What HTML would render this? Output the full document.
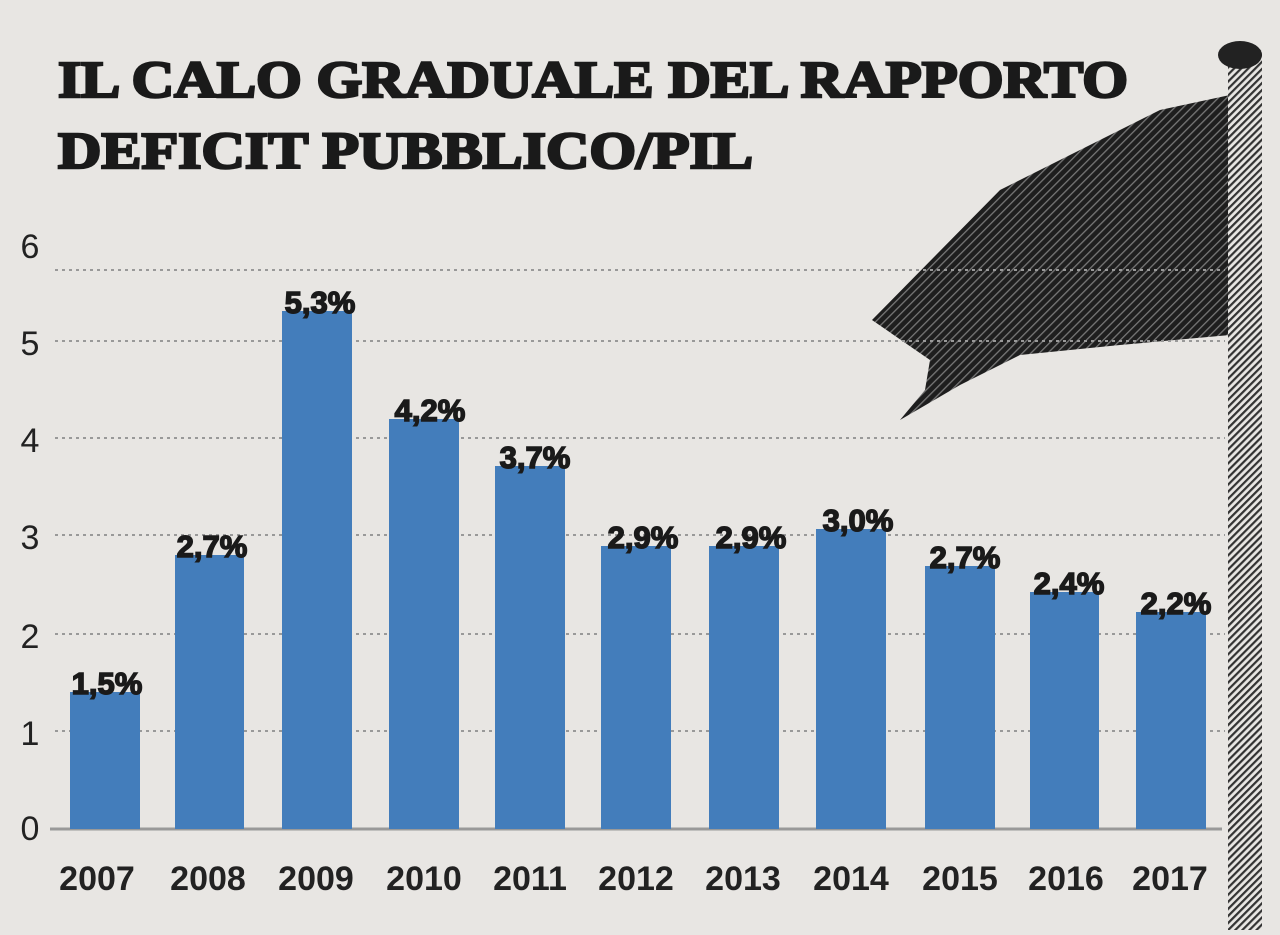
<!DOCTYPE html>
<html><head><meta charset="utf-8"><style>
body{margin:0;width:1280px;height:930px;overflow:hidden;background:#e8e6e3;font-family:"Liberation Sans",sans-serif;}
</style></head><body>
<svg width="1280" height="930" viewBox="0 0 1280 930" xmlns="http://www.w3.org/2000/svg">
<defs>
<pattern id="h" width="6" height="6" patternUnits="userSpaceOnUse" patternTransform="rotate(45)">
<rect width="6" height="6" fill="#1e1e1e"/><rect width="1.3" height="6" fill="#777"/></pattern>
<pattern id="p" width="5" height="5" patternUnits="userSpaceOnUse" patternTransform="rotate(45)">
<rect width="5" height="5" fill="#e8e6e3"/><rect width="2.2" height="5" fill="#333"/></pattern>
</defs>
<rect width="1280" height="930" fill="#e8e6e3"/>
<polygon points="872,320 1000,190 1080,150 1160,110 1230,95 1230,335 1120,345 1020,355 960,385 900,420 925,390 930,360" fill="url(#h)"/>
<rect x="1228" y="50" width="34" height="880" fill="url(#p)"/>
<ellipse cx="1240" cy="55" rx="22" ry="14" fill="#222"/>
<g fill="#1a1a1a" stroke="#1a1a1a" stroke-width="2.5" font-weight="900" font-family="'Liberation Serif',serif">
<text x="58" y="97" font-size="52" textLength="1070" lengthAdjust="spacingAndGlyphs">IL CALO GRADUALE DEL RAPPORTO</text>
<text x="58" y="168" font-size="52" textLength="695" lengthAdjust="spacingAndGlyphs">DEFICIT PUBBLICO/PIL</text>
</g>
<g stroke="#999" stroke-width="2" stroke-dasharray="3,4">
<line x1="55" y1="270" x2="1225" y2="270"/><line x1="55" y1="341" x2="1225" y2="341"/>
<line x1="55" y1="438" x2="1225" y2="438"/><line x1="55" y1="535" x2="1225" y2="535"/>
<line x1="55" y1="634" x2="1225" y2="634"/><line x1="55" y1="731" x2="1225" y2="731"/>
</g>
<line x1="50" y1="829" x2="1222" y2="829" stroke="#999" stroke-width="3"/>
<g font-size="34" fill="#222" text-anchor="middle">
<text x="30" y="258">6</text><text x="30" y="355">5</text><text x="30" y="452">4</text>
<text x="30" y="549">3</text><text x="30" y="648">2</text><text x="30" y="745">1</text><text x="30" y="840">0</text>
</g>
<g fill="#437dbb">
<rect x="70" y="692" width="70" height="137"/>
<rect x="175" y="555" width="69" height="274"/>
<rect x="282" y="311" width="70" height="518"/>
<rect x="389" y="419" width="70" height="410"/>
<rect x="495" y="466" width="70" height="363"/>
<rect x="601" y="546" width="70" height="283"/>
<rect x="709" y="546" width="70" height="283"/>
<rect x="816" y="529" width="70" height="300"/>
<rect x="925" y="566" width="70" height="263"/>
<rect x="1030" y="592" width="69" height="237"/>
<rect x="1136" y="612" width="70" height="217"/>
</g>
<g font-size="31" font-weight="900" fill="#1a1a1a" stroke="#1a1a1a" stroke-width="1.5" text-anchor="middle">
<text x="107" y="694">1,5%</text><text x="212" y="557">2,7%</text><text x="320" y="313">5,3%</text>
<text x="430" y="421">4,2%</text><text x="535" y="468">3,7%</text><text x="643" y="548">2,9%</text>
<text x="751" y="548">2,9%</text><text x="858" y="531">3,0%</text><text x="965" y="568">2,7%</text>
<text x="1069" y="594">2,4%</text><text x="1176" y="614">2,2%</text>
</g>
<g font-size="34" fill="#222" text-anchor="middle" font-weight="bold">
<text x="97" y="890">2007</text><text x="208" y="890">2008</text><text x="316" y="890">2009</text>
<text x="424" y="890">2010</text><text x="530" y="890">2011</text><text x="636" y="890">2012</text>
<text x="743" y="890">2013</text><text x="851" y="890">2014</text><text x="960" y="890">2015</text>
<text x="1066" y="890">2016</text><text x="1170" y="890">2017</text>
</g>
</svg>
</body></html>
